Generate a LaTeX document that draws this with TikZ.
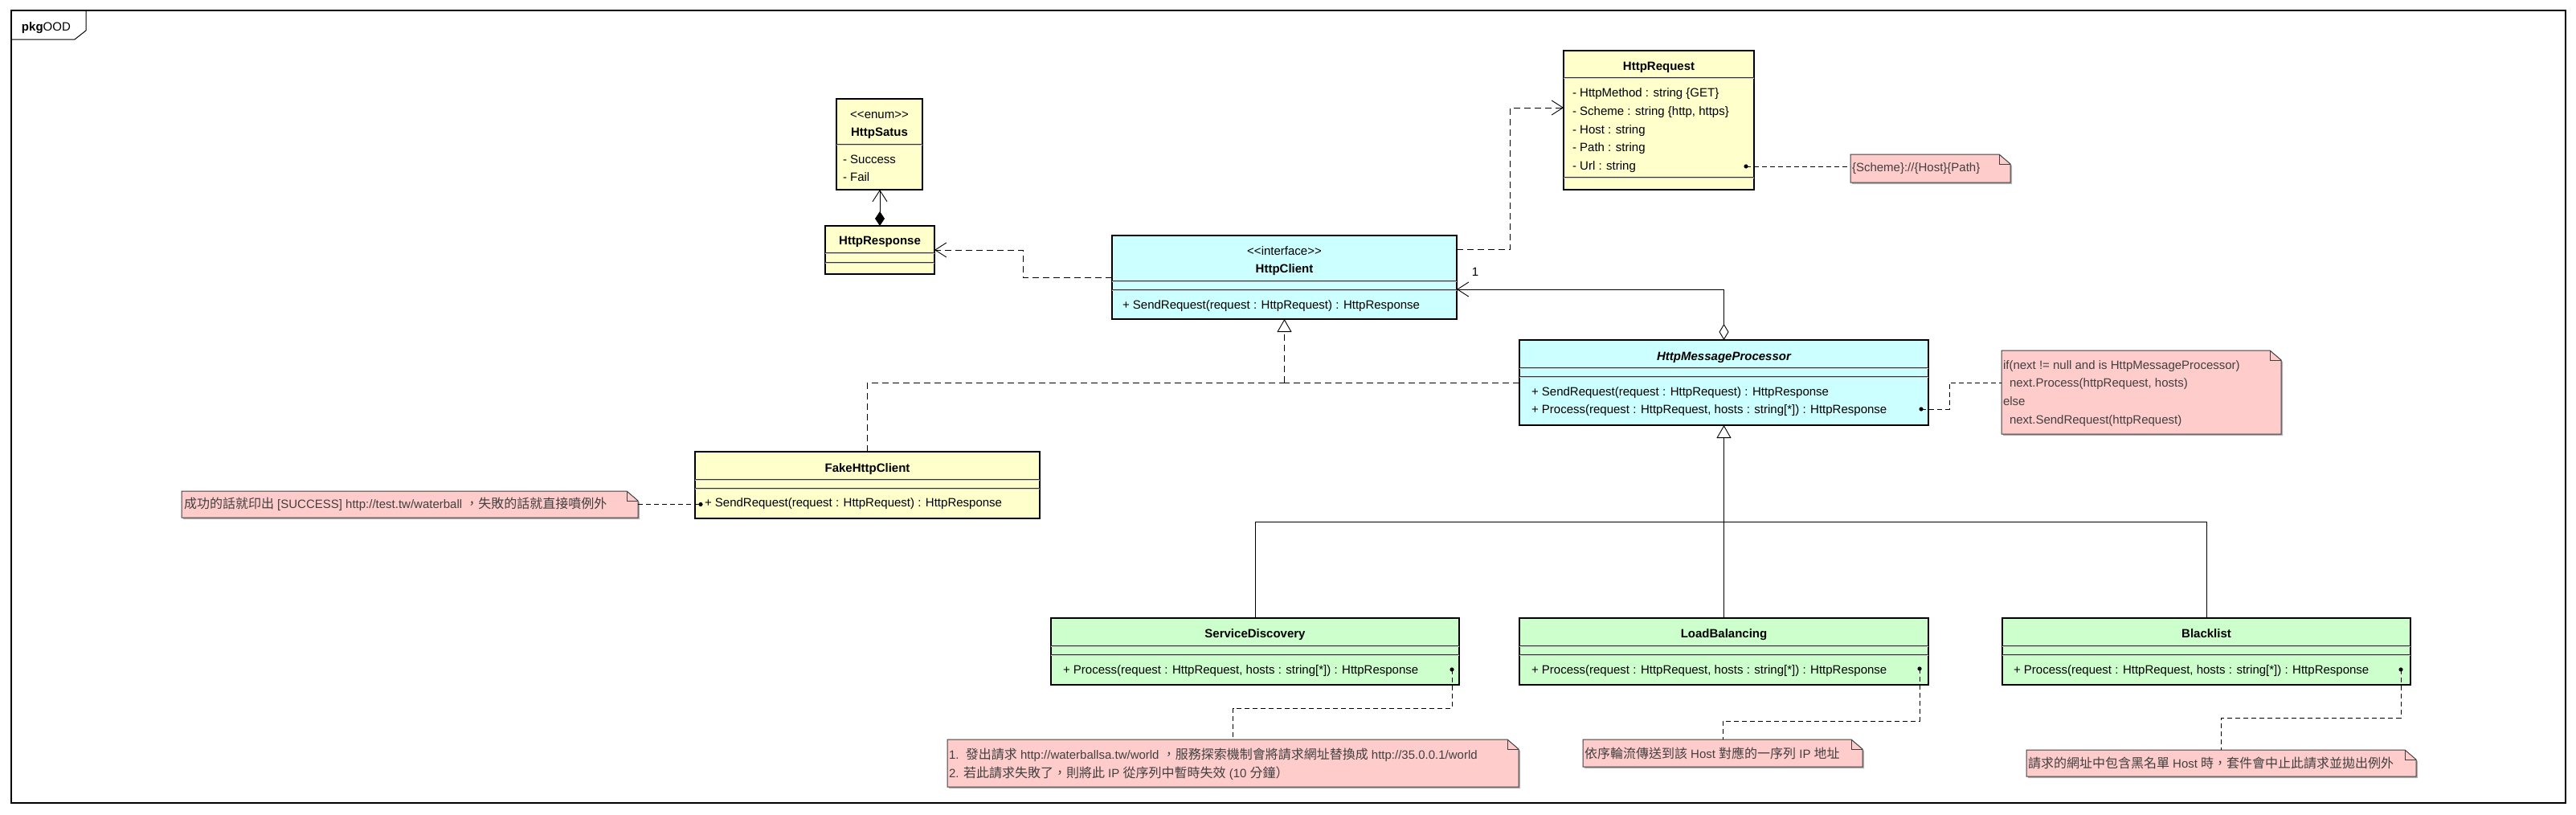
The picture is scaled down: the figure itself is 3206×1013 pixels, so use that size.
\documentclass[tikz,border=0pt]{standalone}
\usepackage{fontspec}
\setmainfont{Liberation Sans}
\newfontfamily\cjk{Noto Sans CJK TC}
\usetikzlibrary{arrows.meta,calc}

\definecolor{clsY}{HTML}{FFFFCC}
\definecolor{clsC}{HTML}{CCFFFF}
\definecolor{clsG}{HTML}{CCFFCC}
\definecolor{noteP}{HTML}{FFCCCC}
\definecolor{noteTx}{HTML}{404040}

\newcommand\zh[1]{{\cjk\fontsize{16}{20}\selectfont #1}}
\newcommand\lt{<\kern0pt<}
\newcommand\gt{>\kern0pt>}

\tikzset{
  every node/.style={font=\fontsize{15}{18}\selectfont, inner sep=0pt, outer sep=0pt},
  clsbox/.style={draw=black, line width=2.7pt, anchor=north west},
  nmtxt/.style={anchor=base, font=\fontsize{15}{18}\selectfont\bfseries},
  sttxt/.style={anchor=base},
  mbtxt/.style={anchor=base west},
  notebox/.style={anchor=north west},
  notetxt/.style={anchor=base west, text=noteTx},
  conn/.style={line width=0.9pt, draw=black},
  dep/.style={conn, dash pattern=on 8pt off 5pt},
  notelink/.style={conn, dash pattern=on 6pt off 4pt},
  openarrow/.style={-{Straight Barb[length=14pt,width=18pt,line width=0.9pt]}},
  hollowtri/.style={-{Triangle[open,length=16pt,width=18pt,fill=white,line width=0.9pt]}},
  seplineA/.style={line width=1pt, draw=black!80},
  seplineB/.style={line width=1pt, draw=black!22},
  notedraw/.style={line width=1pt, draw=black!75},
}

\newcommand\sepl[3]{%
  \draw[seplineA] (#1,#3) -- (#2,#3);
  \draw[seplineB] (#1,#3+1.2) -- (#2,#3+1.2);}

\newcommand\notedrawing[1]{%
  \fill[black!30] ([xshift=2pt,yshift=-2pt]#1.north west) -- ([xshift=-12pt,yshift=-2pt]#1.north east)
     -- ([xshift=2pt,yshift=-14pt]#1.north east) -- ([xshift=2pt,yshift=-2pt]#1.south east)
     -- ([xshift=2pt,yshift=-2pt]#1.south west) -- cycle;
  \filldraw[notedraw, fill=noteP] (#1.north west) -- ([xshift=-14pt]#1.north east)
     -- ([yshift=-12pt]#1.north east) -- (#1.south east) -- (#1.south west) -- cycle;
  \draw[notedraw] ([xshift=-14pt]#1.north east) |- ([yshift=-12pt]#1.north east);}

\begin{document}
\begin{tikzpicture}[x=1pt,y=-1pt]
\useasboundingbox (0,0) rectangle (3206,1013);

% frame
\draw[line width=1.2pt] (14,13) rectangle (3193,999);
\draw[line width=1pt] (14,49) -- (93,49) -- (107,38) -- (107,13);
\node[anchor=base west] (pkgl) at (27,38) {\textbf{pkg}OOD};

% ---------------- classes ----------------
% HttpSatus
\node[clsbox, fill=clsY, minimum width=107pt, minimum height=113pt] (hsat) at (1041,123) {};
\node[sttxt] (hsat1) at (1094.5,147) {\lt enum\gt};
\node[nmtxt] (hsat2) at (1094.5,169) {HttpSatus};
\sepl{1041}{1148}{179}
\node[mbtxt] (hsat3) at (1049,203) {- Success};
\node[mbtxt] (hsat4) at (1049,225) {- Fail};

% HttpResponse
\node[clsbox, fill=clsY, minimum width=136pt, minimum height=60pt] (hresp) at (1027,281) {};
\node[nmtxt] (hresp1) at (1095,304) {HttpResponse};
\sepl{1027}{1163}{314}
\sepl{1027}{1163}{326}

% HttpRequest
\node[clsbox, fill=clsY, minimum width=237pt, minimum height=173pt] (hreq) at (1946,63) {};
\node[nmtxt] (hreq0) at (2064.5,87) {HttpRequest};
\sepl{1946}{2183}{96}
\node[mbtxt] (hreq1) at (1957,120) {- HttpMethod : string \{GET\}};
\node[mbtxt] (hreq2) at (1957,143) {- Scheme : string \{http, https\}};
\node[mbtxt] (hreq3) at (1957,166) {- Host : string};
\node[mbtxt] (hreq4) at (1957,188) {- Path : string};
\node[mbtxt] (hreq5) at (1957,211) {- Url : string};
\sepl{1946}{2183}{220}

% HttpClient
\node[clsbox, fill=clsC, minimum width=429pt, minimum height=104pt] (hc) at (1384,293) {};
\node[sttxt] (hc1) at (1598.5,317) {\lt interface\gt};
\node[nmtxt] (hc2) at (1598.5,339) {HttpClient};
\sepl{1384}{1813}{349}
\sepl{1384}{1813}{360}
\node[mbtxt] (hc3) at (1397,384) {+ SendRequest(request : HttpRequest) : HttpResponse};

% HttpMessageProcessor
\node[clsbox, fill=clsC, minimum width=509pt, minimum height=106pt] (hmp) at (1891,423) {};
\node[nmtxt, font=\fontsize{15}{18}\selectfont\bfseries\itshape] (hmp1) at (2145.5,448) {HttpMessageProcessor};
\sepl{1891}{2400}{457}
\sepl{1891}{2400}{468}
\node[mbtxt] (hmp2) at (1906,492) {+ SendRequest(request : HttpRequest) : HttpResponse};
\node[mbtxt] (hmp3) at (1906,514) {+ Process(request : HttpRequest, hosts : string[*]) : HttpResponse};

% FakeHttpClient
\node[clsbox, fill=clsY, minimum width=429pt, minimum height=83pt] (fake) at (865,562) {};
\node[nmtxt] (fake1) at (1079.5,587) {FakeHttpClient};
\sepl{865}{1294}{596}
\sepl{865}{1294}{607}
\node[mbtxt] (fake2) at (877,630) {+ SendRequest(request : HttpRequest) : HttpResponse};

% ServiceDiscovery
\node[clsbox, fill=clsG, minimum width=508pt, minimum height=83pt] (sd) at (1308,769) {};
\node[nmtxt] (sd1) at (1562,793) {ServiceDiscovery};
\sepl{1308}{1816}{803}
\sepl{1308}{1816}{814}
\node[mbtxt] (sd2) at (1323,838) {+ Process(request : HttpRequest, hosts : string[*]) : HttpResponse};

% LoadBalancing
\node[clsbox, fill=clsG, minimum width=509pt, minimum height=83pt] (lb) at (1891,769) {};
\node[nmtxt] (lb1) at (2145.5,793) {LoadBalancing};
\sepl{1891}{2400}{803}
\sepl{1891}{2400}{814}
\node[mbtxt] (lb2) at (1906,838) {+ Process(request : HttpRequest, hosts : string[*]) : HttpResponse};

% Blacklist
\node[clsbox, fill=clsG, minimum width=508pt, minimum height=83pt] (bl) at (2492,769) {};
\node[nmtxt] (bl1) at (2746,793) {Blacklist};
\sepl{2492}{3000}{803}
\sepl{2492}{3000}{814}
\node[mbtxt] (bl2) at (2506,838) {+ Process(request : HttpRequest, hosts : string[*]) : HttpResponse};

% ---------------- notes ----------------
\node[notebox, minimum width=568pt, minimum height=33pt] (n1) at (226,611) {};
\notedrawing{n1}
\node[notetxt] (n1t) at (229,632) {\zh{成功的話就印出} [SUCCESS] http://test.tw/waterball \zh{，失敗的話就直接噴例外}};

\node[notebox, minimum width=199pt, minimum height=35pt] (n2) at (2303,192) {};
\notedrawing{n2}
\node[notetxt] (n2t) at (2305,213) {\{Scheme\}://\{Host\}\{Path\}};

\node[notebox, minimum width=348pt, minimum height=104pt] (n3) at (2491,436) {};
\notedrawing{n3}
\node[notetxt] (n3a) at (2493,459) {if(next != null and is HttpMessageProcessor)};
\node[notetxt] (n3b) at (2501,481) {next.Process(httpRequest, hosts)};
\node[notetxt] (n3c) at (2493,504) {else};
\node[notetxt] (n3d) at (2501,527) {next.SendRequest(httpRequest)};

\node[notebox, minimum width=711pt, minimum height=59pt] (n4) at (1179,920) {};
\notedrawing{n4}
\node[notetxt] (n4a) at (1181,944) {1.\ \ \zh{發出請求} http://waterballsa.tw/world \zh{，服務探索機制會將請求網址替換成} http://35.0.0.1/world};
\node[notetxt] (n4b) at (1181,967) {2. \zh{若此請求失敗了，則將此} IP \zh{從序列中暫時失效} (10 \zh{分鐘）}};

\node[notebox, minimum width=348pt, minimum height=34pt] (n5) at (1970,920) {};
\notedrawing{n5}
\node[notetxt] (n5t) at (1972,943) {\zh{依序輪流傳送到該} Host \zh{對應的一序列} IP \zh{地址}};

\node[notebox, minimum width=485pt, minimum height=33pt] (n6) at (2522,933) {};
\notedrawing{n6}
\node[notetxt] (n6t) at (2524,955) {\zh{請求的網址中包含黑名單} Host \zh{時，套件會中止此請求並拋出例外}};

% ---------------- connectors ----------------
% composition HttpResponse -> HttpSatus
\draw[conn, {Diamond[length=18pt,width=12pt]}-{Straight Barb[length=14pt,width=18pt,line width=0.9pt]}]
  (hresp.north) -- (hresp.north |- hsat.south);

% dependency HttpClient -> HttpResponse
\draw[dep, openarrow] (hc.west) -| ($(hresp.east)!.5!(hc.west)$) |- (hresp.east);

% dependency HttpClient -> HttpRequest
\coordinate (hcR) at ([yshift=-17pt]hc.north east);
\coordinate (hqL) at ([yshift=-71pt]hreq.north west);
\draw[dep, openarrow] (hcR) -| ($(hcR)!.5!(hqL)$) |- (hqL);

% association HttpMessageProcessor -> HttpClient
\coordinate (hcA) at ([yshift=-67pt]hc.north east);
\draw[conn, {Diamond[open,length=20pt,width=12pt,fill=white,line width=0.9pt]}-{Straight Barb[length=14pt,width=18pt,line width=0.9pt]}]
  (hmp.north) |- (hcA);
\node[anchor=base] (mult1) at (1836,343) {1};

% realizations
\coordinate (rj) at (hc.south |- hmp.west);
\draw[dep] (fake.north) |- (rj);
\draw[dep] (hmp.west) -- (rj);
\draw[dep, hollowtri] (rj) -- (hc.south);

% generalizations
\coordinate (gj) at ($(hmp.south)!.5!(lb.north)$);
\draw[conn] (sd.north) |- (gj) -| (bl.north);
\draw[conn, hollowtri] (lb.north) -- (hmp.south);

% note links
\coordinate (dfk) at (872,627.5);
\coordinate (drq) at (2173,207);
\coordinate (dmp) at (2391,509);
\coordinate (dsd) at (1807,833);
\coordinate (dlb) at (2389,832);
\coordinate (dbl) at (2988,833);

\draw[notelink] (n1.east) -- (dfk);
\draw[notelink] (drq) -- (drq -| n2.west);
\draw[notelink] (dmp) -- ++(35,0) |- ([yshift=12pt]n3.west);
\draw[notelink] (dsd) -- ++(0,48) -| (n4.north);
\draw[notelink] (dlb) -- ++(0,65) -| (n5.north);
\draw[notelink] (dbl) -- ++(0,60) -| (n6.north);

\foreach \d in {dfk,drq,dmp,dsd,dlb,dbl} \fill (\d) circle (2.6pt);
\end{tikzpicture}
\end{document}
